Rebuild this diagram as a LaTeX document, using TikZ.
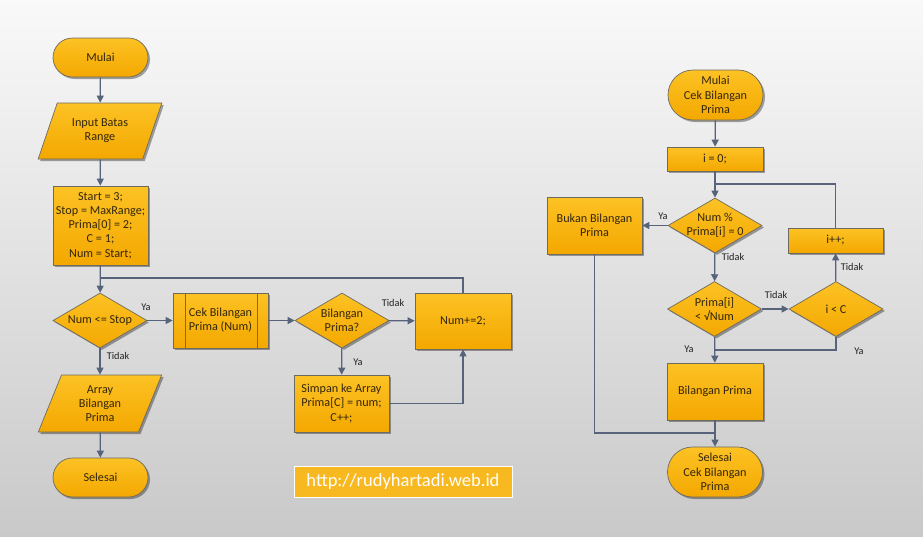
\documentclass[tikz,border=0pt]{standalone}
\usepackage{fontspec}
\setmainfont{Carlito}
\usetikzlibrary{shapes.geometric,arrows.meta,shadows}
\definecolor{bgt}{HTML}{F9F9F9}
\definecolor{bgb}{HTML}{C9C9C9}
\definecolor{fillt}{HTML}{FCC224}
\definecolor{fillb}{HTML}{F4A800}
\definecolor{bord}{HTML}{6E6A60}
\definecolor{lnc}{HTML}{56637A}
\definecolor{txtc}{HTML}{33260C}
\definecolor{lblc}{HTML}{222222}
\definecolor{wmfill}{HTML}{F8B820}
\tikzset{
  base/.style={draw=bord, line width=0.7pt, top color=fillt, bottom color=fillb,
    drop shadow={shadow xshift=2pt, shadow yshift=-2pt, opacity=0.35, fill=black},
    font=\fontsize{12.2}{14.2}\selectfont, align=center, text=txtc, inner sep=0pt},
  term/.style={base, rectangle, rounded corners=#1, minimum width=95pt},
  proc/.style={base, rectangle},
  dia/.style={base, diamond, minimum width=94pt, minimum height=55pt},
  io/.style={base, trapezium, trapezium stretches=true, minimum width=124pt, minimum height=56pt},
  ln/.style={draw=lnc, line width=1.2pt},
  arr/.style={ln, -{Triangle[length=7pt,width=7pt]}},
  lbl/.style={font=\fontsize{10.3}{12}\selectfont, text=lblc, inner sep=0pt},
  dtxt/.style={font=\fontsize{12.2}{14.2}\selectfont, align=center, text=txtc}
}
\begin{document}
\begin{tikzpicture}[x=1pt,y=-1pt]
\shade[top color=bgt, bottom color=bgb] (0,0) rectangle (923,536);
\useasboundingbox (0,0) rectangle (923,536);

% ---- left flowchart ----
\node[term=19.5pt, minimum height=39pt] (m1) at (100.5,57.5) {Mulai};
\node[io, trapezium left angle=62.6, trapezium right angle=117.4] (in1) at (100,131) {Input Batas\\Range};
\node[proc, minimum width=95pt, minimum height=79pt] (st) at (100.5,225.5) {Start = 3;\\Stop = MaxRange;\\Prima[0] = 2;\\C = 1;\\Num = Start;};
\node[dia, label={[dtxt]center:Num <= Stop}] (d1) at (100,320.5) {};
\node[proc, minimum width=95pt, minimum height=55pt] (cek) at (220.5,320.5) {Cek Bilangan\\Prima (Num)};
\draw[draw=bord, line width=0.7pt] ([xshift=13pt]cek.north west) -- ([xshift=13pt]cek.south west);
\draw[draw=bord, line width=0.7pt] ([xshift=-11pt]cek.north east) -- ([xshift=-11pt]cek.south east);
\node[dia, label={[dtxt]center:Bilangan\\Prima?}] (d2) at (342,320.5) {};
\node[proc, minimum width=96pt, minimum height=56pt] (inc) at (463,321) {Num+=2;};
\node[proc, minimum width=95pt, minimum height=57pt] (simp) at (341.5,403.5) {Simpan ke Array\\Prima[C] = num;\\C++;};
\node[io, trapezium left angle=70.7, trapezium right angle=109.3, minimum height=57pt] (arrn) at (100,403.5) {Array\\Bilangan\\Prima};
\node[term=19.5pt, minimum height=39pt] (s1) at (100.5,477.5) {Selesai};

\coordinate (j1) at (100,278);
\draw[arr] (m1) -- (in1);
\draw[arr] (in1) -- (st);
\draw[arr] (st) -- (d1);
\draw[ln] (inc.north) |- (j1);
\draw[arr] (d1) -- (cek);
\draw[arr] (cek) -- (d2);
\draw[arr] (d2) -- (inc);
\draw[arr] (d2) -- (simp);
\draw[arr] (simp.east) -| (inc.south);
\draw[arr] (d1) -- (arrn);
\draw[arr] (arrn) -- (s1);

\node[lbl] (l1) at (146,307) {Ya};
\node[lbl] (l2) at (118,356) {Tidak};
\node[lbl] (l3) at (393,303) {Tidak};
\node[lbl] (l4) at (358,362) {Ya};

% watermark
\node[fill=wmfill, draw=white, line width=1pt, minimum width=218pt, minimum height=31pt,
  text=white, font=\fontsize{18.5}{20}\selectfont, inner sep=0pt] (wm) at (403,481.5) {http://rudyhartadi.web.id};

% ---- right flowchart ----
\node[term=25pt, minimum height=50pt] (m2) at (715.5,95) {Mulai\\Cek Bilangan\\Prima};
\node[proc, minimum width=96pt, minimum height=24pt] (i0) at (715,159) {i = 0;};
\node[dia, label={[dtxt]center:Num \%\\Prima[i] = 0}] (d3) at (715,225.5) {};
\node[proc, minimum width=95pt, minimum height=57pt] (buk) at (594.5,225.5) {Bukan Bilangan\\Prima};
\node[proc, minimum width=95pt, minimum height=25pt] (ipp) at (835.5,240.5) {i++;};
\node[dia, label={[dtxt]center:Prima[i]\\< √Num}] (d4) at (714.5,309) {};
\node[dia, label={[dtxt]center:i < C}] (d5) at (836,309) {};
\node[proc, minimum width=96pt, minimum height=57pt] (bp) at (715,391.5) {Bilangan Prima};
\node[term=25pt, minimum height=50pt] (s2) at (715,472) {Selesai\\Cek Bilangan\\Prima};

\coordinate (j2) at (715,184);
\coordinate (j3) at (715,350);
\coordinate (j4) at (715,433);
\draw[arr] (m2) -- (i0);
\draw[arr] (i0) -- (d3);
\draw[ln] (ipp.north) |- (j2);
\draw[arr] (d3) -- (buk);
\draw[arr] (d3) -- (d4);
\draw[arr] (d4) -- (d5);
\draw[arr] (d5) -- (ipp);
\draw[arr] (d4) -- (bp);
\draw[ln] (d5.south) |- (j3);
\draw[arr] (bp) -- (s2);
\draw[ln] (buk.south) |- (j4);

\node[lbl] (l5) at (663,216) {Ya};
\node[lbl] (l6) at (733,257) {Tidak};
\node[lbl] (l7) at (852,267) {Tidak};
\node[lbl] (l8) at (776,295) {Tidak};
\node[lbl] (l9) at (689,349) {Ya};
\node[lbl] (l10) at (859,351) {Ya};
\end{tikzpicture}
\end{document}
